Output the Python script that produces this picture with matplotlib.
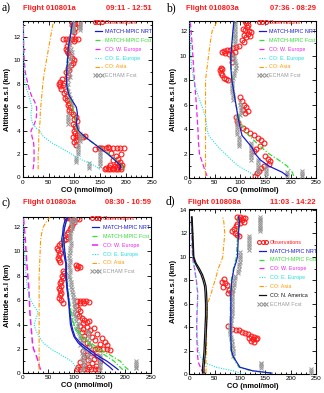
import matplotlib
matplotlib.use('Agg')
import matplotlib.pyplot as plt
from matplotlib.ticker import MultipleLocator

plt.rcParams['font.family'] = ['Liberation Sans', 'DejaVu Sans']

# ---------------- data: panel a ----------------
alt_a = [0.7, 1.0, 1.5, 2.0, 2.5, 3.0, 3.5, 4.0, 4.5, 5.0, 5.5, 6.0, 6.5, 7.0, 7.5, 8.0, 9.0, 10.0, 11.0, 12.0, 13.2]
nrt_a = [188, 190, 178, 165, 150, 135, 120, 108, 104, 105, 106, 104, 97, 90, 87, 85, 85, 87, 88, 92, 96]
fcst_a = [195, 192, 180, 168, 152, 135, 118, 106, 102, 103, 100, 97, 93, 90, 88, 85, 84, 86, 88, 92, 95]
weu_a = [20, 21, 22, 22, 22, 21, 18, 16, 22, 26, 27, 27, 23, 17, 13, 10, 5, 3, 2, 1.5, 1]
eeu_a = [150, 140, 115, 95, 75, 55, 40, 32, 20, 17, 16, 18, 15, 12, 8, 5, 3, 2, 2, 1.5, 1]
asia_a = [30, 30, 30, 30, 31, 31, 31, 32, 33, 34, 34, 35, 36, 37, 38, 39, 42, 46, 50, 54, 59]
obs_a = [(160, 0.7), (165, 0.7), (170, 0.7), (175, 0.7), (180, 0.7), (185, 0.7), (190, 0.75), (162, 0.85),
         (168, 0.9), (175, 0.85), (183, 0.9), (190, 0.9), (178, 1.0), (186, 1.05), (192, 1.1), (170, 1.1),
         (182, 1.2), (188, 1.3), (175, 1.5), (185, 1.6), (180, 1.8), (190, 2.0), (172, 2.1),
         (140, 2.45), (147, 2.5), (154, 2.5), (161, 2.5), (168, 2.5), (175, 2.5), (182, 2.5), (189, 2.5),
         (196, 2.5), (150, 2.55), (165, 2.6), (104, 2.8), (100, 3.0), (103, 3.2),
         (98, 3.45), (104, 3.5), (110, 3.5), (116, 3.5), (120, 3.55), (106, 3.65),
         (102, 3.8), (100, 4.0), (104, 4.2), (102, 4.4), (98, 4.6), (105, 4.8), (100, 5.0), (103, 5.2),
         (97, 5.4), (93, 5.6), (90, 5.8), (92, 6.0), (88, 6.2), (90, 6.4), (85, 6.6), (82, 6.8), (86, 7.0),
         (80, 7.2), (84, 7.4), (75, 7.6), (72, 7.8), (70, 8.0), (73, 8.2), (76, 8.4), (80, 8.1), (78, 7.9),
         (85, 8.6), (88, 8.8), (84, 9.0), (90, 9.2), (87, 9.4), (93, 9.6), (98, 9.8), (100, 10.0), (95, 10.2),
         (92, 10.4), (88, 10.6), (85, 10.8), (84, 11.0), (86, 11.2), (78, 11.8), (84, 11.8), (90, 11.8),
         (96, 11.85), (102, 11.85), (108, 11.8), (88, 11.6), (100, 11.7), (95, 12.2), (100, 12.4),
         (98, 12.6), (102, 12.8), (95, 13.0), (100, 13.1), (106, 13.2), (110, 13.2), (96, 13.25)]
echam_a = [(98, 12.4), (98, 12.55), (98, 12.7), (98, 12.85), (98, 13.0), (98, 13.15), (98, 13.3),
           (112, 12.6), (112, 12.75), (112, 12.9), (112, 13.05), (112, 13.2),
           (92, 11.9), (90, 11.6), (91, 11.3), (93, 11.0), (95, 10.7), (94, 10.4), (92, 10.1), (90, 9.8),
           (89, 9.5), (88, 9.2), (90, 8.9), (91, 8.6), (88, 8.3), (87, 8.0), (86, 7.7), (88, 7.4), (90, 7.1),
           (92, 6.8), (94, 6.5), (95, 6.2), (88, 4.6), (88, 4.8), (88, 5.0), (88, 5.2), (88, 5.4),
           (105, 4.2), (106, 4.4), (112, 3.1), (112, 3.3), (112, 3.5), (112, 3.7),
           (108, 2.0), (108, 2.2), (108, 2.4), (108, 2.6), (108, 2.8), (103, 1.3), (103, 1.5), (103, 1.7),
           (150, 1.0), (150, 1.2), (150, 1.4), (150, 1.6), (150, 1.8), (150, 2.0), (150, 2.2), (150, 2.4),
           (128, 0.8), (128, 1.0), (128, 1.2)]

# ---------------- data: panel b ----------------
alt_b = [0.2, 0.5, 1.0, 1.5, 2.0, 2.5, 3.0, 3.5, 4.0, 5.0, 6.0, 7.0, 8.0, 9.0, 10.0, 11.0, 12.0, 12.8]
nrt_b = [193, 183, 157, 140, 130, 124, 114, 104, 101, 96, 92, 88, 84, 82, 82, 84, 86, 88]
fcst_b = [206, 203, 193, 176, 157, 143, 130, 117, 107, 98, 92, 88, 85, 83, 83, 85, 87, 89]
weu_b = [35, 32, 28, 24, 20, 19, 18, 17.5, 17, 15.5, 14, 12, 10, 8.5, 7, 5.5, 3.5, 2]
eeu_b = [130, 118, 97, 83, 71, 58, 48, 38, 35, 32, 24, 15, 9, 5, 3, 2, 1.5, 1]
asia_b = [32, 32, 32, 32, 32, 32, 32, 32, 32, 32, 32, 32, 32, 35, 38, 41, 45, 55]
obs_b = [(110, 12.8), (112, 12.65), (115, 12.5), (113, 12.35), (105, 12.2), (110, 12.1), (118, 12.0),
         (122, 11.9), (115, 11.8), (108, 11.7), (112, 11.5), (120, 11.6), (104, 11.3), (108, 11.1),
         (98, 10.8), (92, 10.7), (86, 10.6), (80, 10.5), (74, 10.45), (68, 10.4), (64, 10.3), (70, 10.2),
         (78, 10.15), (84, 10.1), (90, 10.3), (85, 9.8), (84, 9.5), (62, 9.0), (60, 8.8), (62, 8.6),
         (65, 8.4), (68, 8.2), (72, 8.1), (76, 8.05), (64, 8.9), (100, 6.6), (104, 6.3), (108, 6.0),
         (112, 5.8), (115, 5.5), (110, 5.3), (106, 5.6), (92, 5.0), (95, 4.7), (97, 4.5),
         (105, 4.1), (112, 3.9), (120, 3.7), (128, 3.5), (135, 3.3), (142, 3.1), (148, 2.9),
         (140, 2.6), (132, 2.4), (128, 2.2), (150, 1.8), (155, 1.6), (160, 1.4), (158, 1.2),
         (148, 1.0), (142, 0.8), (137, 0.6), (133, 0.4), (130, 0.2)]
echam_b = [(90, 12.8), (90, 12.6), (90, 12.4), (90, 12.2), (90, 12.0), (90, 11.8), (90, 11.6), (90, 11.4),
           (90, 11.2), (90, 11.0), (88, 10.0), (88, 9.8), (90, 9.6), (90, 9.4), (92, 9.2), (92, 9.0),
           (90, 8.8), (88, 8.6), (88, 8.4), (86, 8.2), (85, 8.0), (85, 7.8), (85, 7.6), (85, 7.4),
           (85, 7.2), (85, 7.0), (86, 6.8), (86, 6.6), (86, 6.4), (100, 6.2), (100, 6.0), (102, 5.8),
           (102, 5.6), (102, 5.4), (100, 5.2), (95, 5.0), (95, 4.8), (95, 4.6), (95, 4.4), (95, 4.2),
           (95, 4.0), (95, 3.8), (95, 3.6), (98, 3.4), (98, 3.2), (98, 3.0), (98, 2.8), (98, 2.6),
           (122, 2.9), (122, 2.7), (122, 2.5), (122, 2.3), (122, 2.1), (122, 1.9), (122, 1.7), (122, 1.5),
           (135, 1.5), (135, 1.3), (135, 1.1), (135, 0.9), (135, 0.7), (135, 0.5),
           (152, 1.0), (152, 0.8), (152, 0.6), (152, 0.4), (152, 0.2), (193, 0.5), (193, 0.35), (193, 0.2),
           (222, 0.6), (222, 0.45), (222, 0.3), (222, 0.15)]

# ---------------- data: panel c ----------------
alt_c = [0.3, 0.5, 1.0, 1.5, 2.0, 2.5, 3.0, 3.5, 4.0, 5.0, 6.0, 7.0, 8.0, 9.0, 10.0, 11.0, 11.5, 12.0, 12.5, 12.8]
nrt_c1 = [186, 180, 164, 144, 128, 112, 102, 98, 95, 92, 89, 86, 84, 84, 79, 76, 78, 79, 82, 86]
nrt_c2 = [175, 170, 155, 138, 122, 108, 100, 96, 93, 91, 90, 87, 85, 85, 82, 80, 80, 82, 85, 88]
fcst_c1 = [206, 200, 190, 170, 150, 132, 118, 108, 100, 95, 91, 88, 86, 85, 82, 79, 80, 82, 85, 88]
fcst_c2 = [195, 190, 178, 160, 142, 126, 112, 104, 98, 94, 90, 87, 85, 84, 81, 78, 79, 81, 84, 87]
weu_c = [35, 33, 30, 26, 21, 19, 18, 17, 16, 14, 13, 12, 10, 8, 6.5, 5, 4, 3, 2, 1.3]
eeu_c = [108, 104, 95, 75, 55, 40, 32, 26, 22, 30, 15, 9, 6.5, 5, 3, 2, 2, 1.5, 1, 1]
asia_c = [32, 32, 32, 32, 32, 32, 32, 32, 32, 32, 32, 32, 32, 33, 34, 35, 37, 40, 47, 53]
obs_c = [(85, 12.75), (90, 12.75), (95, 12.75), (100, 12.75), (105, 12.75), (110, 12.7), (98, 12.6),
         (100, 12.4), (97, 12.2), (95, 12.0), (92, 11.8), (88, 11.6), (86, 11.4), (88, 11.2), (85, 11.0),
         (80, 10.9), (75, 10.7), (70, 10.5), (66, 10.3), (68, 10.1), (72, 9.9), (70, 9.7), (68, 9.5),
         (70, 9.3), (73, 9.1), (104, 8.9), (108, 8.8), (112, 8.7), (106, 8.6), (78, 8.4), (80, 8.2),
         (76, 8.0), (78, 7.8), (75, 7.6), (72, 7.4), (74, 7.2), (70, 7.0), (72, 6.8), (75, 6.6),
         (72, 6.4), (70, 6.2), (74, 6.0), (78, 5.8), (105, 5.9), (111, 5.9), (117, 5.9), (123, 5.9),
         (129, 5.85), (112, 5.75), (120, 5.75), (103, 5.5), (108, 5.3), (112, 5.1), (106, 4.9),
         (110, 4.7), (115, 4.5), (120, 4.4), (126, 4.2), (118, 4.1), (130, 4.3), (112, 3.9), (125, 3.8),
         (138, 3.7), (118, 3.6), (132, 3.55), (115, 3.4), (128, 3.3), (145, 3.2), (120, 3.1), (135, 3.0),
         (155, 2.9), (118, 2.8), (140, 2.7), (160, 2.6), (125, 2.5), (150, 2.4), (165, 2.3), (130, 2.2),
         (145, 2.1), (140, 2.0), (148, 2.0), (156, 2.0), (164, 2.0), (170, 1.95), (118, 1.8), (135, 1.7),
         (125, 1.5), (145, 1.4), (120, 1.3), (138, 1.2), (128, 1.1), (150, 1.0), (112, 0.9), (135, 0.85),
         (120, 0.7), (142, 0.6), (108, 0.5), (130, 0.55), (105, 0.35), (112, 0.35), (119, 0.35),
         (126, 0.35), (133, 0.35), (140, 0.35), (147, 0.35)]
echam_c = [(95, 12.7), (95, 12.5), (95, 12.3), (97, 12.1), (97, 11.9), (95, 11.7), (93, 11.5), (92, 11.3),
           (92, 11.1), (93, 10.9), (95, 10.7), (95, 10.5), (93, 10.3), (92, 10.1), (92, 9.9), (90, 9.7),
           (90, 9.5), (92, 9.3), (92, 9.1), (90, 8.9), (90, 8.7), (92, 8.5), (92, 8.3), (90, 8.1),
           (90, 7.9), (92, 7.7), (94, 7.5), (94, 7.3), (95, 7.1), (96, 6.9), (96, 6.7), (98, 6.5),
           (98, 6.3), (100, 6.1), (100, 5.9), (100, 5.7), (102, 5.5), (102, 5.3), (100, 5.1), (100, 4.9),
           (102, 4.7), (104, 4.5), (104, 4.3), (102, 12.8), (102, 12.6), (102, 12.4),
           (108, 4.1), (108, 3.9), (106, 3.7), (108, 3.5), (110, 3.3), (112, 3.1), (112, 2.9), (115, 2.7),
           (115, 2.5), (112, 2.3), (118, 2.1), (120, 1.9), (115, 1.7), (118, 1.5), (120, 1.3), (115, 1.1),
           (118, 0.9), (120, 0.7), (118, 0.5), (115, 0.3), (128, 3.5), (128, 3.2), (130, 2.9), (130, 2.6),
           (132, 2.3), (132, 2.0), (130, 1.7), (128, 1.4), (130, 1.1), (150, 1.5), (150, 1.3), (150, 1.1),
           (150, 0.9), (150, 0.7), (150, 0.5), (150, 0.3), (220, 1.0), (220, 0.85), (220, 0.7),
           (220, 0.55), (220, 0.4)]

# ---------------- data: panel d ----------------
alt_d = [0.1, 0.3, 0.6, 1.0, 1.5, 2.0, 3.0, 4.0, 5.0, 6.0, 7.0, 7.5, 8.0, 8.5, 9.0, 9.5, 10.0, 11.0, 12.0, 13.0, 13.4]
nrt_d = [163, 125, 100, 94, 87, 83, 82, 82, 82, 82, 82, 83, 84, 86, 88, 92, 95, 96, 97, 99, 97]
fcst_d = [160, 122, 98, 92, 86, 82, 81, 81, 81, 81, 81, 82, 83, 85, 87, 90, 93, 94, 96, 97, 96]
weu_d = [30, 25, 22, 18, 16.5, 16, 15, 14.5, 15, 16, 16.5, 15, 14, 12, 10.5, 8, 6.6, 5.5, 5, 4, 4]
eeu_d = [102, 86, 53, 30, 22, 18, 16, 15, 15.5, 16.5, 16.5, 15, 14, 12, 10.5, 8, 6.6, 5.5, 5, 4, 4]
asia_d = [33, 33, 33, 33, 33, 34, 34, 34, 35, 36, 44, 47, 51, 54, 57, 62, 66, 68, 70, 68, 66]
nam_d1 = [26, 26, 26, 27, 28, 29, 30, 31, 32, 32, 31, 30, 27, 23, 17, 11, 8, 7, 6, 5, 4.5]
nam_d2 = [29, 29, 29, 30, 31, 32, 33, 34, 35, 35, 34, 33, 30, 26, 20, 13, 9, 8, 7, 6, 5.5]
obs_d = [(95, 13.4), (100, 13.4), (105, 13.35), (110, 13.3), (98, 13.2), (104, 13.1), (108, 13.0),
         (100, 12.9), (95, 12.8), (92, 12.6), (88, 12.4), (85, 12.2), (90, 12.0), (95, 11.9), (98, 11.8),
         (68, 8.1), (64, 7.9), (70, 7.8), (74, 7.6), (66, 7.4), (78, 7.2), (82, 7.0), (76, 6.9),
         (76, 4.1), (85, 3.85), (92, 3.8), (98, 3.75), (104, 3.6), (110, 3.5), (116, 3.4), (122, 3.3),
         (128, 3.2), (133, 3.1), (118, 3.1), (125, 3.0), (132, 3.0), (122, 2.85), (128, 2.75)]
echam_d = [(140, 13.4), (140, 13.25), (140, 13.1), (140, 12.95), (140, 12.8), (140, 12.65), (140, 12.5),
           (140, 12.35), (140, 12.2), (118, 11.8), (118, 11.6), (118, 11.4), (118, 11.2), (118, 11.0),
           (118, 10.8), (118, 10.6), (100, 10.4), (100, 10.2), (100, 10.0), (100, 9.8), (100, 9.6),
           (98, 9.4), (98, 9.2), (98, 9.0), (96, 8.8), (96, 8.6), (90, 8.4), (90, 8.2), (88, 8.0),
           (88, 7.8), (88, 7.6), (86, 7.4), (86, 7.2), (85, 7.0), (85, 6.8), (84, 6.6), (84, 6.4),
           (84, 6.2), (84, 6.0), (84, 5.8), (84, 5.6), (84, 5.4), (84, 5.2), (84, 5.0), (82, 4.8),
           (82, 4.6), (82, 4.4), (80, 4.2), (80, 4.0), (80, 3.8), (80, 3.6), (80, 3.4), (82, 3.2),
           (82, 3.0), (84, 2.8), (85, 2.6), (85, 2.4), (86, 2.2), (86, 2.0), (86, 1.8), (86, 1.6),
           (142, 1.0), (142, 0.85), (142, 0.7), (142, 0.55), (240, 0.45), (240, 0.3), (240, 0.15)]

panel_letters = ['a)', 'b)', 'c)', 'd)']
flights = ['Flight 010801a', 'Flight 010803a', 'Flight 010803a', 'Flight 010808a']
times = ['09:11 - 12:51', '07:36 - 08:29', '08:30 - 10:59', '11:03 - 14:22']

# ---------------- styling ----------------
RED = '#ff1a1a'
BLUE = '#1a1acc'
GREEN = '#33dd33'
MAG = '#ee22ee'
CYAN = '#22dddd'
ORANGE = '#ff9900'
GRAY = '#999999'
BLACK = '#111111'

W, H = 324, 393
fig = plt.figure(figsize=(W / 100, H / 100), dpi=100)


def px_axes(l, r, t, b):
    return fig.add_axes([l / W, 1 - b / H, (r - l) / W, (b - t) / H])


axA = px_axes(22.7, 151.7, 20.7, 177.5)
axB = px_axes(189.3, 316.0, 20.7, 178.3)
axC = px_axes(22.7, 151.0, 216.7, 373.3)
axD = px_axes(189.3, 316.0, 209.3, 374.3)


def scatter_pairs(ax, pairs, **kw):
    xs = [p[0] for p in pairs]
    ys = [p[1] for p in pairs]
    return ax.plot(xs, ys, linestyle='none', **kw)


def draw_obs(ax, pairs):
    scatter_pairs(ax, pairs, marker='o', ms=3.5, mfc='none', mec=RED, mew=0.8,
                  label='Observations', zorder=2)


def draw_echam(ax, pairs):
    scatter_pairs(ax, pairs, marker='x', ms=2.9, mec=GRAY, mew=0.75,
                  label='ECHAM Fcst', zorder=3)


def line(ax, x, y, style, color, lw, label=None, z=4):
    ax.plot(x, y, linestyle=style, color=color, lw=lw, label=label, zorder=z)


DASH = (0, (4, 2))
DOT = (0, (1, 1.2))
DASHDOT = (0, (4, 1.5, 1, 1.5))


def common(ax, ylim):
    ax.set_xlim(0, 250)
    ax.set_ylim(0, ylim)
    ax.xaxis.set_major_locator(MultipleLocator(50))
    ax.xaxis.set_minor_locator(MultipleLocator(10))
    ax.yaxis.set_major_locator(MultipleLocator(2))
    ax.yaxis.set_minor_locator(MultipleLocator(1))
    ax.tick_params(which='both', direction='in', top=True, right=True, labelsize=4.6, pad=1.5,
                   width=0.6)
    ax.tick_params(which='major', length=3)
    ax.tick_params(which='minor', length=1.6)
    for s in ax.spines.values():
        s.set_linewidth(0.8)
    ax.set_xlabel('CO (nmol/mol)', fontsize=5.4, fontweight='bold', labelpad=1.5)
    ax.set_ylabel('Altitude a.s.l (km)', fontsize=5.4, fontweight='bold', labelpad=2)


label_colors = {'Observations': RED, 'MATCH-MPIC NRT': BLUE, 'MATCH-MPIC Fcst': GREEN,
                'CO: W. Europe': MAG, 'CO: E. Europe': CYAN, 'CO: Asia': ORANGE,
                'CO: N. America': BLACK, 'ECHAM Fcst': GRAY}


def legend(ax, x, y):
    order = ['Observations', 'MATCH-MPIC NRT', 'MATCH-MPIC Fcst', 'CO: W. Europe',
             'CO: E. Europe', 'CO: Asia', 'CO: N. America', 'ECHAM Fcst']
    hs, ls = ax.get_legend_handles_labels()
    d = dict(zip(ls, hs))
    keys = [k for k in order if k in d]
    leg = ax.legend([d[k] for k in keys], keys, loc='upper left', bbox_to_anchor=(x, y),
                    frameon=False, fontsize=3.9, handlelength=1.9, handletextpad=0.35,
                    labelspacing=0.72, borderpad=0, borderaxespad=0, numpoints=3,
                    markerscale=0.8)
    for t in leg.get_texts():
        t.set_color(label_colors[t.get_text()])
    return leg


# panel a
ax = axA
draw_obs(ax, obs_a)
draw_echam(ax, echam_a)
line(ax, weu_a, alt_a, DASH, MAG, 0.9, 'CO: W. Europe')
line(ax, eeu_a, alt_a, DOT, CYAN, 0.8, 'CO: E. Europe')
line(ax, asia_a, alt_a, DASHDOT, ORANGE, 0.8, 'CO: Asia')
line(ax, fcst_a, alt_a, DASHDOT, GREEN, 0.9, 'MATCH-MPIC Fcst')
line(ax, nrt_a, alt_a, '-', BLUE, 0.9, 'MATCH-MPIC NRT')
common(ax, 13.4)
legend(ax, 0.545, 1.005)

# panel b
ax = axB
draw_obs(ax, obs_b)
draw_echam(ax, echam_b)
line(ax, weu_b, alt_b, DASH, MAG, 0.9, 'CO: W. Europe')
line(ax, eeu_b, alt_b, DOT, CYAN, 0.8, 'CO: E. Europe')
line(ax, asia_b, alt_b, DASHDOT, ORANGE, 0.8, 'CO: Asia')
line(ax, fcst_b, alt_b, DASHDOT, GREEN, 0.9, 'MATCH-MPIC Fcst')
line(ax, nrt_b, alt_b, '-', BLUE, 0.9, 'MATCH-MPIC NRT')
common(ax, 12.85)
legend(ax, 0.534, 1.005)

# panel c
ax = axC
draw_obs(ax, obs_c)
draw_echam(ax, echam_c)
line(ax, weu_c, alt_c, DASH, MAG, 1.1, 'CO: W. Europe')
line(ax, eeu_c, alt_c, DOT, CYAN, 0.8, 'CO: E. Europe')
line(ax, asia_c, alt_c, DASHDOT, ORANGE, 0.8, 'CO: Asia')
line(ax, fcst_c1, alt_c, DASHDOT, GREEN, 0.9, 'MATCH-MPIC Fcst')
line(ax, fcst_c2, alt_c, DASHDOT, GREEN, 0.9)
line(ax, nrt_c1, alt_c, '-', BLUE, 0.9, 'MATCH-MPIC NRT')
line(ax, nrt_c2, alt_c, '-', BLUE, 0.9)
common(ax, 12.85)
legend(ax, 0.53, 1.005)

# panel d
ax = axD
draw_obs(ax, obs_d)
draw_echam(ax, echam_d)
line(ax, weu_d, alt_d, DASH, MAG, 0.9, 'CO: W. Europe')
line(ax, eeu_d, alt_d, DOT, CYAN, 0.8, 'CO: E. Europe')
line(ax, asia_d, alt_d, DASHDOT, ORANGE, 0.8, 'CO: Asia')
line(ax, nam_d1, alt_d, '-', BLACK, 0.9, 'CO: N. America')
line(ax, nam_d2, alt_d, '-', BLACK, 0.9)
line(ax, fcst_d, alt_d, DASHDOT, GREEN, 0.9, 'MATCH-MPIC Fcst')
line(ax, nrt_d, alt_d, '-', BLUE, 0.9, 'MATCH-MPIC NRT')
common(ax, 14.05)
legend(ax, 0.54, 0.816)

# titles and panel letters (pixel positions)
title_pos = [(22.7, 151.7, 8.5), (186.0, 316.0, 8.5), (22.7, 151.0, 203.0), (188.0, 316.0, 202.0)]
letter_pos = [(2.0, 8.0), (166.0, 8.0), (2.0, 203.0), (166.0, 201.0)]
for i in range(4):
    l, r, y = title_pos[i]
    fig.text(l / W, 1 - y / H, flights[i], color=RED, fontsize=5.5, fontweight='bold',
             ha='left', va='center')
    fig.text(r / W, 1 - y / H, times[i], color=RED, fontsize=5.5, fontweight='bold',
             ha='right', va='center')
    lx, ly = letter_pos[i]
    fig.text(lx / W, 1 - ly / H, panel_letters[i], fontsize=8.5, family='Liberation Serif',
             ha='left', va='center')

fig.savefig('out.png', dpi=100)
